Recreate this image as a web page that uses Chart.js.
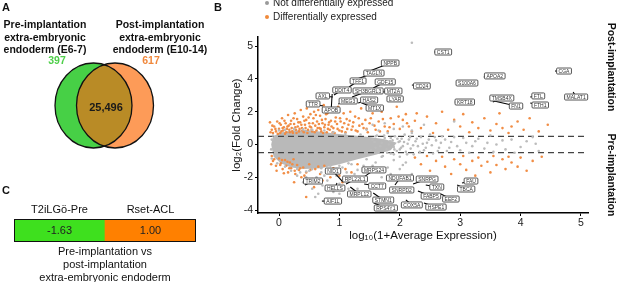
<!DOCTYPE html>
<html><head><meta charset="utf-8">
<script src="https://cdn.jsdelivr.net/npm/chart.js@4.4.1/dist/chart.umd.min.js"></script>
<style>
html,body{margin:0;padding:0;background:#fff;width:617px;height:282px;overflow:hidden;font-family:"Liberation Sans",Arial,sans-serif;color:#111;}
.box{position:absolute;}
.t{position:absolute;white-space:nowrap;line-height:1;transform:translate(-50%,-50%);}
.b{font-weight:bold;}
.dot{position:absolute;width:4px;height:4px;border-radius:50%;transform:translate(-50%,-50%);}
</style></head><body>

<div class="box" style="left:0;top:0;width:205px;height:185px"><canvas id="venn"></canvas></div>
<div class="box" style="left:200px;top:0;width:417px;height:282px"><canvas id="ma"></canvas></div>
<div class="box" style="left:0;top:195px;width:210px;height:50px"><canvas id="heat"></canvas></div>

<!-- Panel A text -->
<div class="t b" style="left:6px;top:7px;font-size:11px">A</div>
<div class="t b" style="left:45px;top:24px;font-size:10.5px">Pre-implantation</div>
<div class="t b" style="left:45px;top:36.5px;font-size:10.5px">extra-embryonic</div>
<div class="t b" style="left:45px;top:49px;font-size:10.5px">endoderm (E6-7)</div>
<div class="t b" style="left:160px;top:24px;font-size:10.5px">Post-implantation</div>
<div class="t b" style="left:160px;top:36.5px;font-size:10.5px">extra-embryonic</div>
<div class="t b" style="left:160px;top:49px;font-size:10.5px">endoderm (E10-14)</div>

<!-- Panel B text -->
<div class="t b" style="left:218px;top:7px;font-size:11px">B</div>
<div class="dot" style="left:267px;top:3px;background:#9a9a9a"></div>
<div class="t" style="left:273px;top:3px;font-size:10px;transform:translate(0,-50%);color:#222">Not differentially expressed</div>
<div class="dot" style="left:267px;top:17px;background:#f08a3a"></div>
<div class="t" style="left:273px;top:17px;font-size:10px;transform:translate(0,-50%);color:#222">Differentially expressed</div>
<div class="t b" style="left:612px;top:67px;font-size:10.5px;transform:translate(-50%,-50%) rotate(90deg)">Post-implantation</div>
<div class="t b" style="left:612px;top:175px;font-size:10.5px;transform:translate(-50%,-50%) rotate(90deg)">Pre-implantation</div>

<!-- Panel C text -->
<div class="t b" style="left:6px;top:190px;font-size:11px">C</div>
<div class="t" style="left:105px;top:251px;font-size:11px">Pre-implantation vs</div>
<div class="t" style="left:105px;top:264px;font-size:11px">post-implantation</div>
<div class="t" style="left:105px;top:277px;font-size:11px">extra-embryonic endoderm</div>

<script>
// ---------------- DATA ----------------
// Panel A: Venn counts
const vennSets = ['Pre-implantation (E6-7)', 'Post-implantation (E10-14)', 'Shared'];
const vennCounts = [397, 617, 25496];

// Panel B: MA plot  [log10(1+avg expr), log2 fold change]
const xTicks = [0, 1, 2, 3, 4, 5];
const yTickLabels = [-4, -2, 0, 2, 4, 5];
const foldThreshold = [0.5, -0.5];

// dense core of non-DE genes (outline of the solid grey cloud)
const denseCloudOutline = [
  [-0.13,0.0],[-0.1,0.5],[0.02,0.72],[0.2,0.85],[0.45,0.88],[0.7,0.78],[0.95,0.65],[1.25,0.55],[1.5,0.45],
  [1.75,0.32],[1.95,0.1],[1.85,-0.35],[1.6,-0.62],[1.3,-0.9],[1.0,-1.2],[0.7,-1.45],[0.42,-1.5],
  [0.2,-1.4],[0.03,-1.15],[-0.09,-0.75]
];

const notDE = [
  [-0.12,0.3],[-0.13,-0.3],[-0.1,0.55],[0.0,0.85],[0.1,0.9],[0.25,0.95],[0.4,0.92],[0.55,0.9],[0.75,0.85],
  [0.9,0.75],[1.1,0.65],[1.35,0.6],[1.6,0.5],[1.85,0.4],[2.0,0.2],[2.0,-0.3],[1.9,-0.6],[1.7,-0.75],
  [1.45,-0.9],[1.15,-1.15],[0.85,-1.3],[0.55,-1.5],[0.3,-1.5],[0.1,-1.35],[-0.03,-1.15],[-0.12,-0.85],
  [0.2,-1.6],[0.45,-1.65],[0.7,-1.45],[1.0,-1.3],
  [1.55,0.3],[1.6,-0.2],[1.62,0.55],[1.65,-0.5],[1.7,0.1],[1.72,-0.7],[1.75,0.4],[1.78,-0.3],[1.8,0.7],
  [1.82,0.0],[1.85,-0.55],[1.88,0.25],[1.9,-0.15],[1.92,0.5],[1.95,-0.4],[1.98,0.15],[2.0,-0.75],[2.03,0.35],
  [2.05,-0.1],[2.08,0.6],[2.1,-0.45],[2.13,0.05],[2.15,0.3],[2.18,-0.25],[2.2,0.7],[2.23,-0.6],[2.26,0.2],
  [2.3,-0.1],[2.35,0.45],[2.4,-0.35],[2.45,0.1],[2.5,0.6],[2.55,-0.55],[2.6,0.25],[2.65,-0.2],[2.7,0.5],
  [2.78,-0.4],[2.85,0.15],[2.95,-0.1],[3.05,0.4],[3.15,-0.5],[3.25,0.2],[3.4,-0.25],[3.5,0.55],[3.6,0.0],
  [3.75,-0.3],[3.85,0.3],[4.0,-0.15],[4.2,0.45],[4.3,-0.4],
  [1.52,-0.35],[1.58,0.15],[1.68,-0.1],[1.74,0.55],[1.79,-0.5],[1.84,0.2],[1.91,-0.3],[1.96,0.35],[2.02,-0.2],
  [2.07,0.15],[2.12,-0.6],[2.17,0.45],[2.22,-0.05],[2.28,0.35],[2.33,-0.45],[2.38,0.05],[2.43,-0.2],[2.48,0.3],
  [2.53,-0.05],[2.58,0.45],[2.63,-0.4],[2.68,0.1],[2.75,0.3],[2.82,-0.2],[2.9,0.45],[3.0,-0.35],[3.1,0.1],
  [3.2,-0.1],[3.3,0.35],[3.45,0.1],[3.55,-0.45],[3.7,0.25],[3.9,-0.5],[4.1,0.2],[4.25,0.05],
  [1.45,0.9],[1.55,1.2],[1.65,0.85],[1.75,1.3],[1.9,0.95],[2.05,1.1],[2.2,0.85],[2.4,1.2],[2.9,1.4],
  [0.3,-1.9],[0.4,-2.3],[0.5,-1.6],[0.55,-2.7],[0.62,-2.0],[0.7,-1.7],[0.72,-2.5],[0.8,-2.2],[0.85,-1.5],
  [0.9,-2.9],[0.95,-1.9],[1.0,-2.4],[1.05,-1.4],[1.1,-2.0],[1.15,-2.7],[1.2,-1.2],[1.25,-1.8],[1.35,-2.2],
  [1.4,-1.3],[1.5,-1.7],[1.6,-1.1],[1.7,-2.0],[1.8,-1.4],[1.9,-0.95],[2.0,-1.5],[2.1,-1.1],[2.2,-1.8],
  [0.35,-1.7],[0.45,-2.0],[0.75,-1.9],[0.95,-1.5],[1.12,-1.7],[1.3,-1.55],[1.45,-2.1],[1.55,-1.3],[1.65,-1.6],
  [1.85,-1.8],[2.05,-1.25],[1.3,-2.7],[1.0,-3.0],
  [0.6,-3.2],[0.65,-3.0],[2.2,5.1]
];

const diffExpressed = [
  [-0.15,1.35],[-0.12,0.9],[-0.1,0.7],[-0.08,1.1],[-0.05,0.8],[-0.03,1.4],[0.0,0.95],[0.02,0.7],[0.03,1.2],
  [0.05,1.6],[0.07,0.85],[0.08,1.05],[0.1,0.65],[0.11,1.3],[0.13,0.95],[0.15,1.8],[0.16,1.15],[0.18,0.75],
  [0.2,1.45],[0.21,1.0],[0.23,0.7],[0.25,1.25],[0.26,1.9],[0.28,0.9],[0.3,1.55],[0.31,1.1],[0.33,0.8],
  [0.35,1.35],[0.36,2.1],[0.38,1.0],[0.4,1.7],[0.41,0.75],[0.43,1.2],[0.45,1.5],[0.46,2.2],[0.48,0.9],
  [0.5,1.3],[0.52,1.85],[0.53,1.05],[0.55,0.8],[0.57,1.6],[0.58,2.0],[0.6,1.15],[0.62,0.85],[0.63,1.4],
  [0.65,2.1],[0.67,1.0],[0.68,1.75],[0.7,0.8],[0.72,1.3],[0.74,2.4],[0.75,1.05],[0.77,1.55],[0.79,0.75],
  [0.8,1.9],[0.82,1.2],[0.84,0.9],[0.86,1.45],[0.88,2.1],[0.9,1.0],[0.92,0.7],[0.94,1.65],[0.96,1.25],
  [0.98,2.3],[1.0,0.85],[1.02,1.4],[1.05,1.05],[1.07,1.9],[1.1,0.75],[1.12,1.55],[1.15,1.2],[1.18,2.0],
  [1.2,0.9],[1.23,1.35],[1.26,1.7],[1.3,0.8],[1.33,1.15],[1.36,2.2],[1.4,1.0],[1.43,1.5],[1.47,0.75],
  [1.5,1.3],[1.55,1.9],[1.6,0.9],[1.65,1.4],[1.7,2.0],[1.75,1.1],[1.8,0.8],[1.85,1.6],[1.9,1.25],
  [1.95,2.3],[2.0,0.95],[2.05,1.5],[2.1,1.85],[2.15,1.1],[2.2,0.8],[2.25,1.45],
  [-0.14,0.75],[-0.11,1.15],[-0.06,0.95],[-0.02,0.65],[0.01,1.3],[0.04,0.8],[0.06,1.0],[0.09,1.45],[0.12,0.75],
  [0.14,1.1],[0.17,0.9],[0.19,1.25],[0.22,0.8],[0.24,1.6],[0.27,1.05],[0.29,0.7],[0.32,1.35],[0.34,0.95],
  [0.37,1.2],[0.39,0.85],[0.42,1.45],[0.44,1.0],[0.47,0.7],[0.49,1.65],[0.51,1.1],[0.54,0.9],[0.56,1.3],
  [0.59,0.75],[0.61,1.8],[0.64,1.0],[0.66,1.25],[0.69,0.95],[0.71,1.5],[0.73,0.7],[0.76,1.2],[0.78,1.85],
  [0.81,0.95],[0.83,1.35],[0.87,1.1],[0.89,0.75],[0.93,1.4],[0.97,0.95],[1.01,1.6],[1.04,0.8],[1.08,1.3],
  [1.13,0.95],[1.17,1.45],[1.22,1.1],[1.27,0.85],[1.32,1.6],[1.38,1.25],[1.45,0.95],[1.52,1.6],[1.58,1.15],
  [1.67,0.8],[1.72,1.55],[1.83,1.05],[1.98,1.7],[2.12,1.3],[2.28,1.9],
  [2.35,1.0],[2.45,1.7],[2.55,0.7],[2.6,1.3],[2.7,2.0],[2.8,0.9],[2.9,1.5],[3.0,1.1],[3.05,1.85],
  [3.15,0.75],[3.2,1.35],[3.3,1.0],[3.4,1.6],[3.5,0.85],[3.6,1.25],[3.65,1.9],[3.7,1.0],[3.8,0.7],
  [3.85,1.1],[3.95,1.4],[4.05,0.9],[4.15,1.6],[4.3,0.8],[4.45,1.2],
  [2.25,-0.8],[2.35,-1.2],[2.45,-0.7],[2.5,-1.6],[2.6,-1.0],[2.7,-0.75],[2.75,-1.35],[2.85,-1.8],[2.9,-0.9],
  [3.0,-1.2],[3.05,-0.7],[3.1,-1.55],[3.2,-1.0],[3.25,-1.9],[3.3,-0.8],[3.35,-1.3],[3.45,-1.05],[3.5,-1.7],
  [3.55,-0.7],[3.6,-1.25],[3.7,-0.9],[3.75,-1.5],[3.8,-0.75],[3.85,-1.1],[3.95,-1.35],[4.0,-0.8],[4.1,-1.6],
  [4.2,-1.0],[4.35,-0.75],
  [-0.12,-0.7],[-0.1,-1.0],[-0.05,-1.3],[0.0,-0.85],[0.03,-1.15],[0.06,-1.5],[0.1,-0.95],[0.12,-1.3],
  [0.15,-1.7],[0.18,-1.1],[0.2,-1.45],[0.24,-0.9],[0.27,-1.8],[0.3,-1.25],[0.33,-1.55],[0.37,-2.0],
  [0.4,-1.4],[0.45,-1.7],[0.5,-1.2],[0.55,-2.1],[0.6,-1.5],[0.68,-1.8],[0.75,-1.3],[0.85,-2.0],[0.95,-1.6],
  [1.05,-2.3],[1.2,-1.7],[0.45,-3.2],[1.3,-1.2],
  [-0.13,-1.2],[-0.08,-0.9],[-0.04,-1.6],[0.02,-1.25],[0.05,-0.95],[0.08,-1.75],[0.14,-1.05],[0.17,-1.45],
  [0.22,-1.2],[0.26,-1.6],[0.35,-1.45],[0.42,-1.9],[0.52,-1.55],[0.65,-1.35],[0.72,-2.2],[0.9,-1.45],
  [1.0,-1.9],[1.1,-1.5],[0.25,-2.3],[0.58,-2.6]
];

// labelled genes
const geneNames = ['NPPB','TAGLN','TFF1','DDIT4','AXL','APOB','TTR','MEG3','SH3BGRL3','GDF15','MT2A','HAS2','LYAR','MT1X',
  'CD24','CST1','S100A6','APOA2','KRT18','TMSB4X','FN1','FTL','FTH1','CGA','MALAT1',
  'NID1','MRPS24','TRIM2','RPL22L1','CCT7','HELLS','MRPL12','STMN1','AIF1L','RPS4Y1','NDUFAB1','SNRPG','SNRPD2',
  'TXN','FABP5','EEF2','COX5A','HSPE1','FAU','TBCA'];
const geneExpr = [1.46,1.29,1.16,0.91,0.89,0.88,0.73,0.98,1.21,1.56,1.71,1.31,1.79,1.37,
  2.20,2.57,2.93,3.39,2.91,3.54,3.56,4.16,4.16,4.57,4.87,
  1.06,1.34,0.43,1.11,1.41,0.96,1.18,1.56,0.71,1.57,1.92,2.22,1.85,
  2.43,2.30,2.68,2.10,2.40,3.03,2.95];
const geneFC = [4.21,3.99,3.51,3.02,2.90,3.08,2.35,2.47,2.90,3.45,3.20,2.53,2.84,2.53,
  3.63,4.82,3.81,4.06,2.59,2.59,2.65,2.90,2.53,4.24,3.20,
  -2.29,-2.16,-2.47,-2.41,-2.41,-2.35,-2.59,-2.96,-3.45,-3.57,-2.47,-2.41,-2.65,
  -2.47,-2.84,-3.02,-3.38,-3.57,-2.35,-2.47];

// Panel C: heatmap cells
const heatColumns = ['T2iLGö-Pre', 'Rset-ACL'];
const heatValues = [-1.63, 1.00];

// ---------------- LAYOUT / STYLE ----------------
const labelOffsets = [[23,-9],[17,-6],[9,-6],[8,-5],[-10,-1],[-1,16],[-10,-2],[10,-3],[16,-6],[12,-6],[11,-1],[11,-3],[8,1],[13,5],
  [10,1],[9,0],[11,1],[11,-1],[10,0],[9,-4],[22,5],[8,-1],[10,2],[9,0],[3,5],
  [-10,-11],[14,-10],[8,-4],[9,-5],[13,2],[-2,5],[9,7],[10,7],[11,0],[12,5],[5,-7],[14,-5],[11,2],
  [11,2],[13,5],[10,5],[6,5],[12,4],[9,-2],[9,4]];

function toPos(v){ return v <= 4 ? v : 4 + 2*(v-4); }
function fromPos(p){ return p <= 4 ? p : 4 + (p-4)/2; }

const FONT = '"Liberation Sans", Arial, sans-serif';
Chart.defaults.font.family = FONT;
Chart.defaults.color = '#222';

// ---------- Panel A: Venn ----------
const vennGeom = {left:{cx:93.5, cy:105.5}, right:{cx:115, cy:105.5}, rx:38.5, ry:42.5,
  countPos:[[57,61],[151,61],[106,108]]};
const vennPlugin = {
  id:'venn',
  afterDraw(chart){
    const {ctx, scales:{x,y}} = chart;
    const px = v => x.getPixelForValue(v), py = v => y.getPixelForValue(v);
    const rxp = Math.abs(px(vennGeom.rx) - px(0)), ryp = Math.abs(py(vennGeom.ry) - py(0));
    const ell = c => { ctx.beginPath(); ctx.ellipse(px(c.cx), py(c.cy), rxp, ryp, 0, 0, Math.PI*2); };
    ctx.save();
    ell(vennGeom.left); ctx.fillStyle = '#47d046'; ctx.fill();
    ell(vennGeom.right); ctx.fillStyle = '#fd9b58'; ctx.fill();
    ctx.save(); ell(vennGeom.left); ctx.clip(); ell(vennGeom.right); ctx.fillStyle = '#b98b26'; ctx.fill(); ctx.restore();
    ctx.lineWidth = 1.3; ctx.strokeStyle = '#111';
    ell(vennGeom.left); ctx.stroke(); ell(vennGeom.right); ctx.stroke();
    const cols = ['#4fcf4a', '#f0883c', '#1a1a1a'];
    ctx.textAlign = 'center'; ctx.textBaseline = 'middle';
    vennCounts.forEach((n, i) => {
      ctx.font = 'bold ' + (i === 2 ? 11 : 10.5) + 'px ' + FONT;
      ctx.fillStyle = cols[i];
      const p = vennGeom.countPos[i];
      ctx.fillText(n.toLocaleString('en-US'), px(p[0]), py(p[1]));
    });
    ctx.restore();
  }
};
new Chart(document.getElementById('venn'), {
  type:'scatter',
  data:{datasets:[{label:vennSets.join(' / '), data:[]}]},
  options:{responsive:true, maintainAspectRatio:false, animation:false, devicePixelRatio:1,
    layout:{padding:0},
    plugins:{legend:{display:false}, tooltip:{enabled:false}},
    scales:{x:{display:false, min:0, max:205}, y:{display:false, min:0, max:185, reverse:true}}},
  plugins:[vennPlugin]
});

// ---------- Panel B: MA plot ----------
const cloudPlugin = {
  id:'cloud',
  beforeDatasetsDraw(chart){
    const {ctx, scales:{x,y}, chartArea} = chart;
    ctx.save();
    ctx.beginPath(); ctx.rect(chartArea.left, chartArea.top, chartArea.right-chartArea.left, chartArea.bottom-chartArea.top); ctx.clip();
    ctx.beginPath();
    denseCloudOutline.forEach((p, i) => {
      const X = x.getPixelForValue(p[0]), Y = y.getPixelForValue(toPos(p[1]));
      i ? ctx.lineTo(X, Y) : ctx.moveTo(X, Y);
    });
    ctx.closePath();
    ctx.fillStyle = '#b9b9b9'; ctx.fill();
    ctx.restore();
  }
};
const geneLabelPlugin = {
  id:'geneLabels',
  afterDatasetsDraw(chart){
    const {ctx, scales:{x,y}} = chart;
    ctx.save();
    ctx.font = '5px ' + FONT;
    const items = geneNames.map((name, i) => {
      const ax = x.getPixelForValue(geneExpr[i]), ay = y.getPixelForValue(toPos(geneFC[i]));
      return {name, ax, ay, lx: ax + labelOffsets[i][0], ly: ay + labelOffsets[i][1]};
    });
    ctx.strokeStyle = '#000'; ctx.lineWidth = 1.1;
    items.forEach(it => { ctx.beginPath(); ctx.moveTo(it.ax, it.ay); ctx.lineTo(it.lx, it.ly); ctx.stroke(); });
    ctx.textAlign = 'center'; ctx.textBaseline = 'middle';
    items.forEach(it => {
      const w = ctx.measureText(it.name).width + 4, h = 6;
      ctx.beginPath();
      ctx.roundRect(it.lx - w/2, it.ly - h/2, w, h, 1);
      ctx.fillStyle = '#fff'; ctx.fill();
      ctx.lineWidth = 0.9; ctx.strokeStyle = '#444'; ctx.stroke();
      ctx.fillStyle = '#333';
      ctx.fillText(it.name, it.lx, it.ly + 0.3);
    });
    ctx.restore();
  }
};

const X_MIN = -0.348, X_MAX = 5.116, Y_MIN = -4.177, Y_MAX = 6.555;
new Chart(document.getElementById('ma'), {
  type:'scatter',
  data:{datasets:[
    {label:'Not differentially expressed', data: notDE.map(p => ({x:p[0], y:toPos(p[1])})),
     backgroundColor:'#bcbcbc', pointRadius:1.3, pointBorderWidth:0},
    {label:'Differentially expressed', data: diffExpressed.map(p => ({x:p[0], y:toPos(p[1])})),
     backgroundColor:'#f18d45', pointRadius:1.3, pointBorderWidth:0},
    ...foldThreshold.map(t => ({type:'line', label:'threshold', data:[{x:X_MIN, y:t}, {x:X_MAX, y:t}],
      borderColor:'#444', borderWidth:1.3, borderDash:[6,4], pointRadius:0, showLine:true}))
  ]},
  options:{responsive:true, maintainAspectRatio:false, animation:false, devicePixelRatio:1,
    layout:{padding:{left:0, right:29, top:37, bottom:0}},
    plugins:{legend:{display:false}, tooltip:{enabled:false}},
    scales:{
      x:{type:'linear', min:X_MIN, max:X_MAX,
        afterBuildTicks: s => { s.ticks = xTicks.map(v => ({value:v})); },
        afterFit: s => { s.height = 69; },
        grid:{display:true, drawOnChartArea:false, drawTicks:true, tickLength:3, color:'#000'},
        border:{display:true, color:'#000', width:1.5},
        ticks:{font:{size:10.5}, color:'#222', padding:1},
        title:{display:true, text:'log₁₀(1+Average Expression)', font:{size:11.5}, color:'#111', padding:{top:0, bottom:39}}},
      y:{type:'linear', min:Y_MIN, max:Y_MAX,
        afterBuildTicks: s => { s.ticks = yTickLabels.map(v => ({value:toPos(v)})); },
        afterFit: s => { s.width = 58; },
        grid:{display:true, drawOnChartArea:false, drawTicks:true, tickLength:3, color:'#000'},
        border:{display:true, color:'#000', width:1.5},
        ticks:{font:{size:10.5}, color:'#222', padding:2, callback: v => String(fromPos(v))},
        title:{display:true, text:'log₂(Fold Change)', font:{size:11.5}, color:'#111', padding:{top:30, bottom:0}}}
    }},
  plugins:[cloudPlugin, geneLabelPlugin]
});

// ---------- Panel C: heatmap ----------
const heatPlugin = {
  id:'heatText',
  afterDatasetsDraw(chart){
    const {ctx, chartArea} = chart;
    const meta = chart.getDatasetMeta(0);
    ctx.save();
    ctx.font = '11px ' + FONT; ctx.fillStyle = '#222'; ctx.textAlign = 'center'; ctx.textBaseline = 'middle';
    meta.data.forEach((bar, i) => {
      ctx.fillText(heatValues[i].toFixed(2), bar.x, (bar.y + bar.base) / 2 + 0.5);
    });
    ctx.lineWidth = 1; ctx.strokeStyle = '#111';
    ctx.strokeRect(chartArea.left + 0.5, chartArea.top + 0.5, chartArea.right - chartArea.left - 1, chartArea.bottom - chartArea.top - 1);
    ctx.restore();
  }
};
new Chart(document.getElementById('heat'), {
  type:'bar',
  data:{labels:heatColumns, datasets:[{label:'log2 fold change', data:heatColumns.map(() => [0, 1]),
    backgroundColor: heatValues.map(v => v < 0 ? '#3ee01e' : '#ff8000'), borderWidth:0,
    barPercentage:1, categoryPercentage:1}]},
  options:{responsive:true, maintainAspectRatio:false, animation:false, devicePixelRatio:1,
    layout:{padding:{left:14, right:14, top:0, bottom:3}},
    plugins:{legend:{display:false}, tooltip:{enabled:false}},
    scales:{
      x:{position:'top', grid:{display:false, drawTicks:false}, border:{display:false},
        afterFit: s => { s.height = 24; },
        ticks:{font:{size:11}, color:'#111', padding:2}},
      y:{display:false, min:0, max:1}
    }},
  plugins:[heatPlugin]
});
</script>
</body></html>
